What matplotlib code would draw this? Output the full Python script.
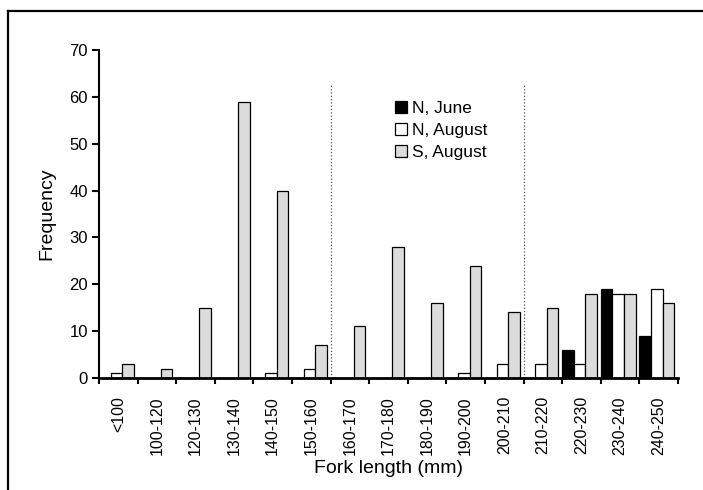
import numpy as np
import matplotlib.pyplot as plt
from matplotlib.lines import Line2D

plt.rcParams['font.family'] = ['Liberation Sans', 'DejaVu Sans']

# fork length classes (mm)
classes = ['<100', '100-120', '120-130', '130-140', '140-150', '150-160',
           '160-170', '170-180', '180-190', '190-200', '200-210', '210-220',
           '220-230', '230-240', '240-250']
n_june = [0, 0, 0, 0, 0, 0, 0, 0, 0, 0, 0, 0, 6, 19, 9]
n_august = [1, 0, 0, 0, 1, 2, 0, 0, 0, 1, 3, 3, 3, 18, 19]
s_august = [3, 2, 15, 59, 40, 7, 11, 28, 16, 24, 14, 15, 18, 18, 16]

fig = plt.figure(figsize=(7.03, 4.90), dpi=100)
ax = fig.add_axes([99 / 703, 1 - 378 / 490, 579 / 703, 328 / 490])

x = np.arange(len(classes))
w = 0.3
edge = dict(edgecolor='black', linewidth=0.9)
ax.bar(x + 0.5 * w, n_june, w, color='black', label='N, June', **edge)
ax.bar(x + 1.5 * w, n_august, w, color='white', label='N, August', **edge)
ax.bar(x + 2.5 * w, s_august, w, color='#dcdcdc', label='S, August', **edge)

# dotted separators between size groups
for xv in (6, 11):
    ax.plot([xv, xv], [0, 62.5], linestyle=':', color='#555555', linewidth=0.9)

ax.set_xlim(0, len(classes))
ax.set_ylim(0, 70)
ax.set_yticks(range(0, 71, 10))
ax.set_xticks(np.arange(len(classes) + 1))
ax.set_xticklabels([])
ax.set_xticks(x + 0.5, minor=True)
ax.set_xticklabels(classes, minor=True, rotation=90, fontsize=11.5)
ax.tick_params(axis='x', which='minor', length=0, pad=13)
ax.tick_params(axis='x', which='major', direction='out', length=4, width=1.5)
ax.tick_params(axis='y', direction='out', length=5, width=1.5, labelsize=12, pad=3)

for side in ('top', 'right'):
    ax.spines[side].set_visible(False)
ax.spines['left'].set_linewidth(1.5)
ax.spines['bottom'].set_linewidth(2)

ax.set_ylabel('Frequency', fontsize=14, labelpad=10)
ax.set_xlabel('Fork length (mm)', fontsize=14, labelpad=4)

ax.legend(loc='upper left', bbox_to_anchor=(395 / 703, 1 - 101 / 490),
          bbox_transform=fig.transFigure, frameon=False, fontsize=12.5,
          handlelength=0.7, handleheight=0.7, handletextpad=0.3,
          labelspacing=0.4, borderaxespad=0, borderpad=0)

# page frame on left and top
fig.add_artist(Line2D([8 / 703, 8 / 703], [0, 1 - 11 / 490],
                      transform=fig.transFigure, color='black', linewidth=1.6))
fig.add_artist(Line2D([8 / 703, 1], [1 - 11 / 490, 1 - 11 / 490],
                      transform=fig.transFigure, color='black', linewidth=1.6))

fig.savefig('out.png', dpi=100)
